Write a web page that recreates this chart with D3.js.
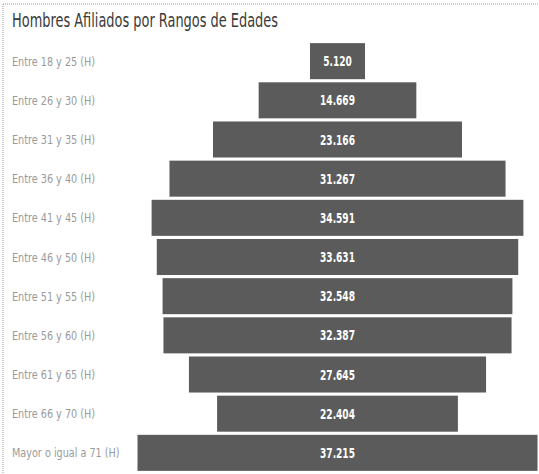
<!DOCTYPE html>
<html>
<head>
<meta charset="utf-8">
<script src="https://cdn.jsdelivr.net/npm/d3@7"></script>
<style>
  html, body { margin: 0; padding: 0; background: #fff; }
  svg { display: block; }
  .narrow { font-family: "DejaVu Sans Condensed", "DejaVu Sans", sans-serif; font-stretch: condensed; }
</style>
</head>
<body>
<svg id="chart" width="539" height="474"></svg>
<script>
const title = "Hombres Afiliados por Rangos de Edades";
const categories = [
  "Entre 18 y 25 (H)", "Entre 26 y 30 (H)", "Entre 31 y 35 (H)", "Entre 36 y 40 (H)",
  "Entre 41 y 45 (H)", "Entre 46 y 50 (H)", "Entre 51 y 55 (H)", "Entre 56 y 60 (H)",
  "Entre 61 y 65 (H)", "Entre 66 y 70 (H)", "Mayor o igual a 71 (H)"
];
const values = [5120, 14669, 23166, 31267, 34591, 33631, 32548, 32387, 27645, 22404, 37215];

const W = 539, H = 474;
const svg = d3.select("#chart");

// dotted frame lines (top and left)
svg.append("line").attr("x1", 3).attr("x2", W).attr("y1", 4).attr("y2", 4)
  .attr("stroke", "#999").attr("stroke-width", 1).attr("stroke-dasharray", "1,1");
svg.append("line").attr("x1", 3).attr("x2", 3).attr("y1", 4).attr("y2", H)
  .attr("stroke", "#999").attr("stroke-width", 1).attr("stroke-dasharray", "1,1");

svg.append("text").attr("class", "narrow")
  .attr("x", 12).attr("y", 27)
  .attr("font-size", 19).attr("fill", "#3a3a3a")
  .attr("textLength", 266).attr("lengthAdjust", "spacingAndGlyphs")
  .text(title);

const center = 337.5;
const x = d3.scaleLinear().domain([0, d3.max(values)]).range([0, 400]);
const y = d3.scaleBand().domain(categories).range([40, 474]).padding(0.08);

const rows = svg.append("g").selectAll("g").data(categories.map((c, i) => ({c, v: values[i]})))
  .join("g");

rows.append("rect")
  .attr("x", d => center - x(d.v) / 2)
  .attr("y", d => y(d.c))
  .attr("width", d => x(d.v))
  .attr("height", y.bandwidth())
  .attr("fill", "#5b5b5b");

rows.append("text").attr("class", "narrow")
  .attr("transform", d => `translate(${center},${y(d.c) + y.bandwidth() / 2}) scale(0.72,1)`)
  .attr("dy", "0.36em")
  .attr("text-anchor", "middle")
  .attr("font-size", 14).attr("font-weight", "bold").attr("fill", "#fff")
  .text(d => d3.format(",")(d.v).replace(/,/g, "."));

rows.append("text").attr("class", "narrow")
  .attr("transform", d => `translate(12,${y(d.c) + y.bandwidth() / 2}) scale(0.86,1)`)
  .attr("dy", "0.36em")
  .attr("font-size", 12.5).attr("fill", "#9a9a9a")
  .text(d => d.c);
</script>
</body>
</html>
